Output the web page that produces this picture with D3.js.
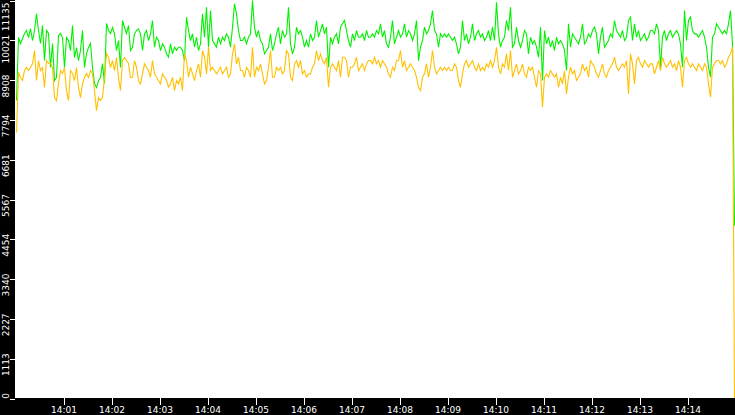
<!DOCTYPE html>
<html>

<head>
    <script src="https://cdnjs.cloudflare.com/ajax/libs/d3/7.8.5/d3.min.js"></script>
    <style>
        body {
            margin: 0;
            background: #000;
        }

        svg {
            display: block;
        }

        .axis text {
            fill: #fff;
            font-family: 'DejaVu Sans', sans-serif;
            font-size: 9px;
        }

        .axis line {
            stroke: #fff;
            shape-rendering: crispEdges;
        }

        .axis path {
            display: none;
        }
    </style>
</head>

<body>
    <div id="root"></div>
    <script>
        // samples: one every 2.5 s starting just after 14:00:01
        const startTime = "14:00:01.250"
        const stepSeconds = 2.5

        const yTickLabels = ["0", "1113", "2227", "3340", "4454", "5567", "6681", "7794", "8908", "10021", "11135"]
        const xTickLabels = ["14:01", "14:02", "14:03", "14:04", "14:05", "14:06", "14:07", "14:08", "14:09", "14:10", "14:11", "14:12", "14:13", "14:14"]

        const greenValues = [
            8335, 10099, 9931, 10071, 10211, 10295, 10099, 10351, 10015, 10295, 10771, 10295, 9931, 10435, 9455, 10295, 10211, 9259, 9931, 8895,
            8979, 10155, 10211, 10099, 9259, 10099, 10015, 9735, 10435, 9539, 9819, 9455, 9735, 10295, 9259, 9651, 9819, 9931, 9259, 8811,
            8699, 8895, 8979, 9371, 8811, 10491, 10295, 10211, 10379, 10211, 9735, 10015, 9259, 10575, 10379, 10211, 10435, 9735,
            9828, 10202, 10295, 10342, 10202, 9735, 10202, 10295, 10015, 10202, 10575, 9828, 10108, 10015, 9735, 9922, 9828, 9642, 9548, 9922,
            9642, 9828, 9735, 9828, 9828, 9735, 9455, 10668, 10295, 10015, 10202, 9828, 10108, 9735, 9922, 10762, 10108, 10948, 9828, 10855,
            10015, 9922, 9828, 10108, 9922, 10108, 10015, 10202, 10108, 9828, 10388, 11042, 10762, 10295, 10015,
            10015, 10108, 9922, 10108, 10202, 11135, 10388, 10108, 10295, 10015, 9922, 9642, 9735, 9828, 10202, 9735, 9922, 10202, 10388, 9922,
            10295, 10108, 10202, 10948, 9922, 9642, 9828, 10388, 10202, 10295, 10108, 9828, 10015, 9828, 10202, 10015, 10108, 10575, 10108, 10295,
            10482, 10202, 10388, 9268, 10108, 9922, 10108, 10202, 9922, 10388, 10482, 10575, 10295, 10015, 9828, 10202, 10015, 10295, 10108,
            10108, 10202, 10015, 10295, 10108, 10108, 10202, 10108, 10295, 10202, 10482, 10108, 10295, 9922, 9828, 10108, 10575, 9922, 10108, 10295,
            10108, 10202, 10482, 10108, 10295, 10202, 10015, 10202, 10575, 9455, 9828, 10015, 10388, 10202, 10295, 10482, 10855, 10295, 10202, 9828,
            10202, 10108, 10202, 10108, 10202, 10108,
            10015, 10108, 9922, 9642, 9828, 10575, 10015, 10202, 9922, 10108, 10482, 10015, 10202, 10295, 10108, 10202, 10015, 10108, 10295, 10015,
            10388, 10015, 11088, 10202, 9828, 10015, 10108, 10575, 10295, 10948, 9828, 9922, 10388, 10015, 9828, 10015, 10295, 10202, 9642, 10108,
            9922, 10015, 9828, 9548, 10388, 8895, 10295, 9922, 10108, 9828, 10015, 9735, 10108, 9922,
            10015, 9922, 9735, 9175, 10482, 9828, 10202, 10108, 10015, 9922, 10108, 10482, 9922, 10015, 10202, 10108, 10295, 10388, 10202, 9642,
            10108, 10388, 9828, 9922, 10015, 10202, 10108, 10575, 10295, 10202, 10108, 10295, 10015, 10108, 10575, 10668, 10015, 10482, 10108, 10295,
            10015, 10108, 10202, 10015, 10108, 10295,
            10295, 10202, 10482, 10295, 9268, 10108, 10295, 10015, 10202, 10295, 10108, 10202, 10295, 10202, 9922, 9268, 10855, 10015, 10575, 10668,
            10295, 10202, 10202, 10108, 10202, 10295, 10108, 9828, 9268, 8988, 10108, 10202, 10482, 10388, 10295, 10202, 10295, 10202, 10482, 10855,
            9922, 4835
        ]

        const yellowValues = [
            7440, 9119, 8979, 8895, 9175, 9259, 9175, 9259, 9371, 9735, 8895, 9455, 9175, 9259, 8699, 9455, 9371, 9371, 9259, 8419,
            8335, 8811, 9175, 9091, 9259, 8615, 8335, 9175, 9091, 8895, 9259, 8699, 8419, 8811, 8979, 9091, 8979, 9175, 9091, 8615,
            8055, 8419, 8335, 8419, 8979, 9651, 9539, 9259, 9455, 9175, 9539, 8979, 8615, 9455, 9539, 9455, 9371, 8979,
            8988, 9455, 9268, 8895, 8802, 9082, 9362, 9268, 9175, 8988, 9455, 9082, 8988, 8895, 8802, 9082, 8988, 8895, 8708, 8802,
            8988, 8615, 8895, 8802, 8988, 8615, 9642, 9455, 8988, 9268, 9082, 8895, 9175, 9362, 8988, 9735, 9548, 9082, 9828, 9175,
            9268, 9175, 9082, 9175, 9268, 9082, 9175, 9268, 8988, 9082, 9642, 9922, 9362, 9548, 9175,
            9175, 8988, 9268, 9175, 8988, 9828, 8988, 9268, 9175, 9362, 9082, 8802, 8895, 9268, 9735, 8988, 8988, 9268, 9175, 9268,
            9082, 9175, 9735, 9642, 8988, 8895, 9362, 9455, 9268, 9455, 9082, 9175, 8988, 9082, 9082, 9268, 9362, 9735, 9455, 9642,
            9455, 9362, 9548, 8708, 9268, 9362, 9268, 9175, 9455, 8988, 9548, 9548, 9455, 8988, 9268, 9268, 9362, 9548, 9175,
            9268, 9362, 9175, 9362, 9455, 9455, 9362, 9548, 9362, 9455, 9268, 9455, 9362, 9268, 9082, 8988, 9268, 9175, 9455, 9455,
            9735, 9268, 9455, 9175, 9268, 9362, 9268, 9175, 8988, 8708, 8615, 8988, 9082, 9362, 8988, 9268, 9735, 9268, 9082, 9175,
            9268, 9175, 9268, 9175, 9268, 9175,
            9175, 9362, 9268, 8895, 8708, 9082, 9362, 9455, 9268, 9362, 9455, 9268, 9175, 9362, 9175, 9268, 9175, 9362, 9268, 9455,
            9268, 9455, 9828, 9268, 9082, 9362, 9268, 9642, 9175, 9735, 8988, 9175, 9362, 9082, 9175, 9362, 9082, 8988, 9268, 9175,
            9268, 8988, 8708, 9175, 9082, 8148, 8988, 9082, 8988, 9175, 9082, 8988, 9082, 8708,
            8988, 8802, 9175, 8522, 8988, 9268, 9082, 9175, 8895, 8988, 9082, 9362, 9175, 9268, 8988, 9455, 9362, 9268, 9082, 8988,
            9175, 9362, 9082, 8988, 9175, 9268, 9362, 9548, 9268, 9175, 9268, 9362, 9268, 9455, 8522, 9642, 9362, 8802, 9455, 9548,
            9362, 9268, 9455, 9362, 9268, 9362,
            9362, 9082, 9268, 9455, 9175, 9548, 9362, 9268, 9362, 9455, 9268, 9362, 9175, 9455, 9268, 8708, 9455, 9548, 9362, 9268,
            9362, 9268, 9175, 9362, 9268, 9175, 9362, 9268, 8802, 8428, 9268, 9362, 9455, 9455, 9362, 9455, 9268, 9362, 9548, 9642,
            9828, 0
        ]

        const w = 735
        const h = 415
        const left = 15
        const bottom = 398

        const parseTime = d3.timeParse("%H:%M:%S.%L")
        const parseMinute = d3.timeParse("%H:%M")
        const t0 = parseTime(startTime)
        const times = greenValues.map((d, i) => new Date(t0.getTime() + i * stepSeconds * 1000))

        const x = d3.scaleTime()
            .domain([parseMinute("14:00"), parseMinute("14:15")])
            .range([left + 0.5, w + 0.5])

        const y = d3.scaleLinear()
            .domain([0, +yTickLabels[yTickLabels.length - 1]])
            .range([bottom + 0.5, 0.5])

        const svg = d3.select("#root")
            .append("svg")
            .attr("width", w)
            .attr("height", h)

        svg.append("rect")
            .attr("width", w)
            .attr("height", h)
            .attr("fill", "#000")

        svg.append("rect")
            .attr("x", left)
            .attr("y", 0)
            .attr("width", w - left)
            .attr("height", bottom)
            .attr("fill", "#fff")

        svg.append("clipPath")
            .attr("id", "plot")
            .append("rect")
            .attr("x", left)
            .attr("y", 0)
            .attr("width", w - left)
            .attr("height", bottom)

        const line = d3.line()
            .x((d, i) => x(times[i]))
            .y(d => y(d))

        // green first, the yellow one sits on top of it
        svg.append("path")
            .datum(greenValues)
            .attr("clip-path", "url(#plot)")
            .attr("d", line)
            .attr("fill", "none")
            .attr("stroke", "#00f000")
            .attr("stroke-width", 1.1)

        svg.append("path")
            .datum(yellowValues)
            .attr("clip-path", "url(#plot)")
            .attr("d", line)
            .attr("fill", "none")
            .attr("stroke", "#ffc000")
            .attr("stroke-width", 1.1)

        svg.append("g")
            .attr("class", "axis")
            .attr("transform", `translate(${left},0)`)
            .call(d3.axisLeft(y)
                .tickValues(yTickLabels.map(Number))
                .tickFormat((d, i) => yTickLabels[i])
                .tickSize(5))
            .selectAll("text")
            .attr("x", 0)
            .attr("dy", null)
            .attr("text-anchor", "end")
            .attr("transform", d => `translate(-6.5,${Math.max(-6, 2 - y(d))}) rotate(-90)`)

        svg.append("g")
            .attr("class", "axis")
            .attr("transform", `translate(0,${bottom})`)
            .call(d3.axisBottom(x)
                .tickValues(xTickLabels.map(parseMinute))
                .tickFormat((d, i) => xTickLabels[i])
                .tickSize(7))
            .selectAll("text")
            .attr("y", 15)
            .attr("dy", null)
    </script>
</body>

</html>
